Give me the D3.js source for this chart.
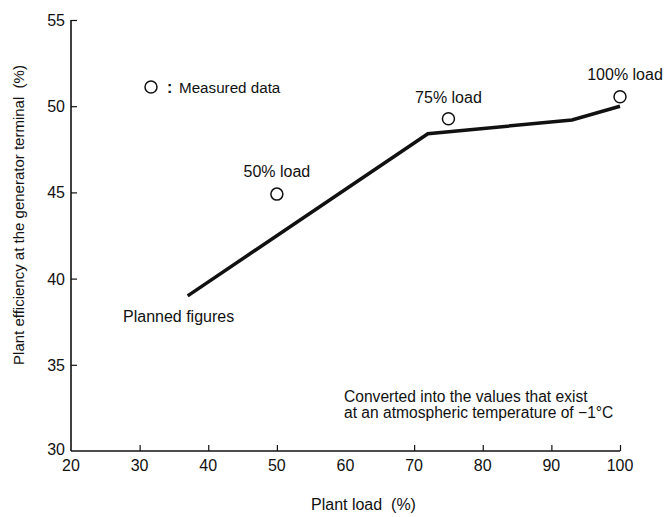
<!DOCTYPE html>
<html><head><meta charset="utf-8">
<script src="https://cdn.jsdelivr.net/npm/d3@7"></script>
<style>body{margin:0;background:#fff}svg{display:block}text{font-family:"Liberation Sans",Arial,sans-serif;fill:#111}</style>
</head><body>
<script>
const planLoad = [37, 72, 93, 100];
const planEff = [39.0, 48.4, 49.2, 50.0];
const measLoad = [50, 75, 100];
const measEff = [44.9, 49.27, 50.55];
const measLabels = ["50% load", "75% load", "100% load"];
const xTicks = [20, 30, 40, 50, 60, 70, 80, 90, 100];
const yTicks = [30, 35, 40, 45, 50, 55];

const W = 664, H = 517;
const svg = d3.select("body").append("svg").attr("width", W).attr("height", H);
const x = d3.scaleLinear().domain([20, 100]).range([71, 620]);
const y = d3.scaleLinear().domain([30, 55]).range([451, 20]);

// axes
const xAxis = d3.axisBottom(x).tickValues(xTicks.filter(v => v !== 60 && v !== 20)).tickSize(-6).tickFormat("");
svg.append("g").attr("transform", `translate(0,${y(30)})`).call(xAxis)
  .call(g => g.select(".domain").attr("d", `M${x(20)},0H${x(100)}`).attr("stroke", "#111").attr("stroke-width", 1.6))
  .call(g => g.selectAll(".tick line").attr("stroke", "#111").attr("stroke-width", 1.2));
const yAxis = d3.axisLeft(y).tickValues(yTicks.filter(v => v !== 30)).tickSize(-6).tickFormat("");
svg.append("g").attr("transform", `translate(${x(20)},0)`).call(yAxis)
  .call(g => g.select(".domain").attr("d", `M0,${y(55)}V${y(30)}`).attr("stroke", "#111").attr("stroke-width", 1.6))
  .call(g => g.selectAll(".tick line").attr("stroke", "#111").attr("stroke-width", 1.2));

// tick labels
svg.append("g").selectAll("text").data(xTicks).join("text")
  .attr("x", d => x(d)).attr("y", y(30) + 20)
  .attr("text-anchor", "middle").attr("font-size", 16).text(d => d);
svg.append("g").selectAll("text").data(yTicks).join("text")
  .attr("x", x(20) - 6).attr("y", d => y(d) + 6 - (d === 30 ? 2 : 0))
  .attr("text-anchor", "end").attr("font-size", 16).text(d => d);

// axis titles
svg.append("text").attr("x", 311).attr("y", 510).attr("font-size", 16)
  .attr("xml:space", "preserve").text("Plant load  (%)");
svg.append("text").attr("transform", "translate(24,215) rotate(-90)").attr("text-anchor", "middle")
  .attr("font-size", 15).attr("xml:space", "preserve").text("Plant efficiency at the generator terminal  (%)");

// planned line
const line = d3.line().x(d => x(d[0])).y(d => y(d[1]));
svg.append("path").datum(d3.zip(planLoad, planEff)).attr("d", line)
  .attr("fill", "none").attr("stroke", "#111").attr("stroke-width", 3.5);
svg.append("text").attr("x", 123).attr("y", 322).attr("font-size", 16).text("Planned figures");

// measured points
const pts = d3.zip(measLoad, measEff, measLabels);
svg.append("g").selectAll("circle").data(pts).join("circle")
  .attr("cx", d => x(d[0])).attr("cy", d => y(d[1])).attr("r", 6)
  .attr("fill", "none").attr("stroke", "#111").attr("stroke-width", 1.5);
const labOff = [[0, -17], [0, -16], [5, -17]];
svg.append("g").selectAll("text").data(pts).join("text")
  .attr("x", (d, i) => x(d[0]) + labOff[i][0]).attr("y", (d, i) => y(d[1]) + labOff[i][1])
  .attr("text-anchor", "middle").attr("font-size", 16).text(d => d[2]);

// legend
svg.append("circle").attr("cx", 151).attr("cy", 87).attr("r", 6).attr("fill", "none").attr("stroke", "#111").attr("stroke-width", 1.5);
svg.append("text").attr("x", 167).attr("y", 93).attr("font-size", 16).attr("font-weight", "bold").text(":");
svg.append("text").attr("x", 179).attr("y", 93).attr("font-size", 15.2).text("Measured data");

// note
svg.append("text").attr("x", 344).attr("y", 402).attr("font-size", 15.6).text("Converted into the values that exist");
svg.append("text").attr("x", 344).attr("y", 418).attr("font-size", 15.6).text("at an atmospheric temperature of \u22121\u00B0C");
</script>
</body></html>
